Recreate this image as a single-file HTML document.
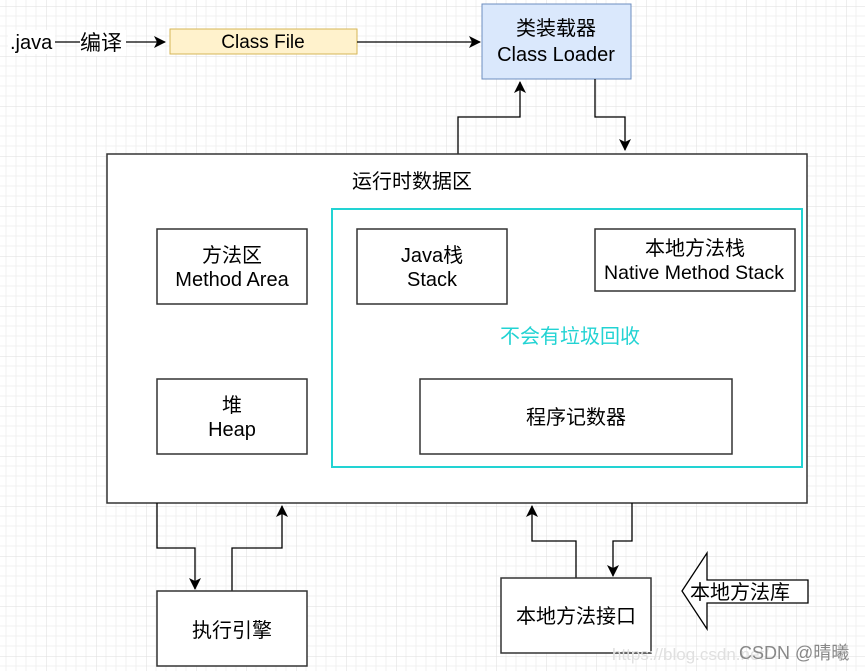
<!DOCTYPE html>
<html><head><meta charset="utf-8"><style>
body{margin:0;width:865px;height:671px;overflow:hidden;background:#fff}
svg{display:block}
text{font-family:"Liberation Sans","Noto Sans CJK SC",sans-serif;fill:#000}
</style></head><body>
<svg width="865" height="671" viewBox="0 0 865 671" xmlns="http://www.w3.org/2000/svg">
<defs>
<pattern id="g" x="-4" y="6" width="50" height="50" patternUnits="userSpaceOnUse">
<path d="M10 0V50M20 0V50M30 0V50M40 0V50M0 10H50M0 20H50M0 30H50M0 40H50" stroke="#f0f0f0" stroke-width="1" fill="none"/>
<path d="M0 0V50M0 0H50" stroke="#dedede" stroke-width="1" fill="none"/>
</pattern>
<marker id="a" markerWidth="12" markerHeight="12" refX="11" refY="6" orient="auto" markerUnits="userSpaceOnUse"><path d="M0 0L12 6L0 12L3 6Z" fill="#000"/></marker>
</defs>
<rect width="865" height="671" fill="url(#g)"/>
<line x1="55" y1="42" x2="165" y2="42" stroke="#000" stroke-width="1.3" marker-end="url(#a)"/>
<rect x="8" y="30" width="47" height="24" fill="#fff"/>
<text x="10" y="49" font-size="20">.java</text>
<rect x="80" y="30" width="46" height="26" fill="#fff"/>
<text x="80" y="50" font-size="21">编译</text>
<rect x="170" y="29" width="187" height="25" fill="#fff2cc" stroke="#d6b656"/>
<text x="263" y="48" font-size="19" text-anchor="middle">Class File</text>
<line x1="357" y1="42" x2="480" y2="42" stroke="#000" stroke-width="1.3" marker-end="url(#a)"/>
<rect x="482" y="4" width="149" height="75" fill="#dae8fc" stroke="#6c8ebf"/>
<text x="556" y="35" font-size="20" text-anchor="middle">类装载器</text>
<text x="556" y="61" font-size="20" text-anchor="middle">Class Loader</text>
<path d="M458 154V117H520V82" fill="none" stroke="#000" stroke-width="1.3" marker-end="url(#a)"/>
<path d="M595 79V117H625V150" fill="none" stroke="#000" stroke-width="1.3" marker-end="url(#a)"/>
<rect x="107" y="154" width="700" height="349" fill="#fff" stroke="#333" stroke-width="1.5"/>
<text x="412" y="188" font-size="20" text-anchor="middle">运行时数据区</text>
<rect x="332" y="209" width="470" height="258" fill="none" stroke="#22d3d3" stroke-width="2"/>
<rect x="157" y="229" width="150" height="75" fill="#fff" stroke="#333" stroke-width="1.5"/>
<text x="232" y="262" font-size="20" text-anchor="middle">方法区</text>
<text x="232" y="286" font-size="20" text-anchor="middle">Method Area</text>
<rect x="357" y="229" width="150" height="75" fill="#fff" stroke="#333" stroke-width="1.5"/>
<text x="432" y="262" font-size="20" text-anchor="middle">Java栈</text>
<text x="432" y="286" font-size="20" text-anchor="middle">Stack</text>
<rect x="595" y="229" width="200" height="62" fill="#fff" stroke="#333" stroke-width="1.5"/>
<text x="695" y="255" font-size="20" text-anchor="middle">本地方法栈</text>
<text x="694" y="279" font-size="19.5" text-anchor="middle">Native Method Stack</text>
<text x="570" y="343" font-size="20" text-anchor="middle" style="fill:#22d3d3">不会有垃圾回收</text>
<rect x="157" y="379" width="150" height="75" fill="#fff" stroke="#333" stroke-width="1.5"/>
<text x="232" y="412" font-size="20" text-anchor="middle">堆</text>
<text x="232" y="436" font-size="20" text-anchor="middle">Heap</text>
<rect x="420" y="379" width="312" height="75" fill="#fff" stroke="#333" stroke-width="1.5"/>
<text x="576" y="424" font-size="20" text-anchor="middle">程序记数器</text>
<path d="M157 503V548H195V589" fill="none" stroke="#000" stroke-width="1.3" marker-end="url(#a)"/>
<path d="M232 591V548H282V506" fill="none" stroke="#000" stroke-width="1.3" marker-end="url(#a)"/>
<rect x="157" y="591" width="150" height="75" fill="#fff" stroke="#333" stroke-width="1.5"/>
<text x="232" y="637" font-size="20" text-anchor="middle">执行引擎</text>
<path d="M576 578V541H532V506" fill="none" stroke="#000" stroke-width="1.3" marker-end="url(#a)"/>
<path d="M632 503V541H613V576" fill="none" stroke="#000" stroke-width="1.3" marker-end="url(#a)"/>
<rect x="501" y="578" width="150" height="75" fill="#fff" stroke="#333" stroke-width="1.5"/>
<text x="576" y="623" font-size="20" text-anchor="middle">本地方法接口</text>
<path d="M682 591L707 553V580H808V603H707V629Z" fill="#fff" stroke="#000" stroke-width="1.3"/>
<text x="690" y="599" font-size="20">本地方法库</text>
<text x="612" y="660" font-size="17" style="fill:#e0e0e0">https://blog.csdn.net/</text>
<text x="739" y="659" font-size="18" style="fill:#888">CSDN @晴曦</text>
</svg>
</body></html>
